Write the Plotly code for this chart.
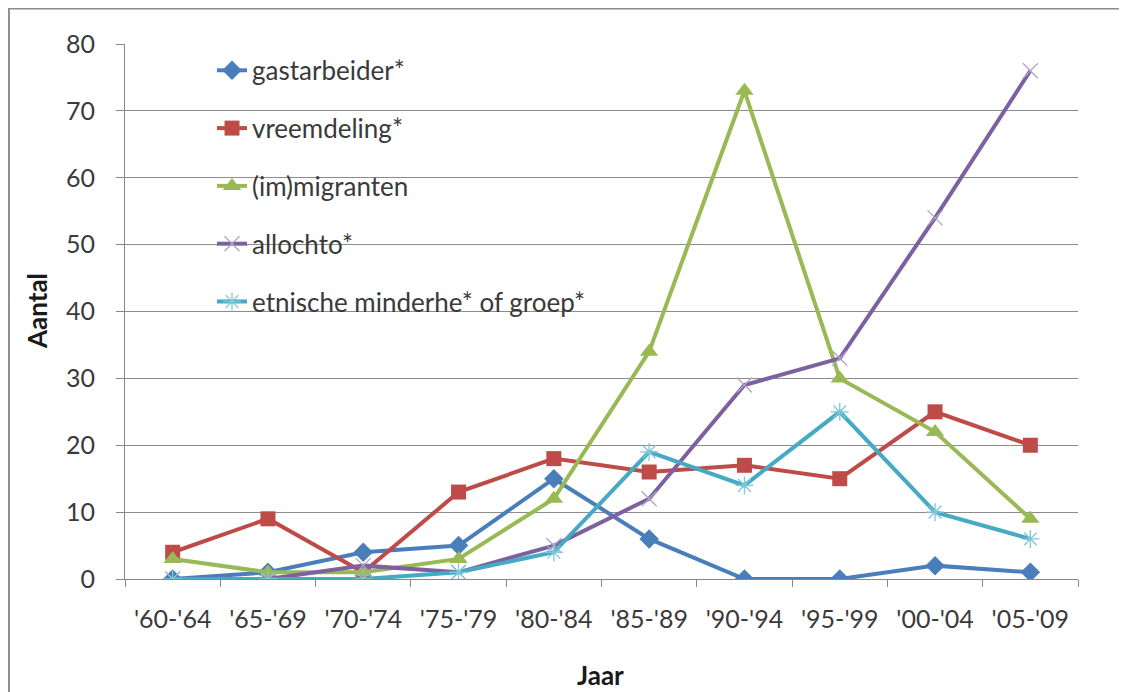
import plotly.graph_objects as go

categories = ["'60-'64", "'65-'69", "'70-'74", "'75-'79", "'80-'84",
              "'85-'89", "'90-'94", "'95-'99", "'00-'04", "'05-'09"]
gastarbeider = [0, 1, 4, 5, 15, 6, 0, 0, 2, 1]
vreemdeling = [4, 9, 1, 13, 18, 16, 17, 15, 25, 20]
immigranten = [3, 1, 1, 3, 12, 34, 73, 30, 22, 9]
allochto = [0, 0, 2, 1, 5, 12, 29, 33, 54, 76]
etnische = [0, 0, 0, 1, 4, 19, 14, 25, 10, 6]

series = [
    ("gastarbeider*", gastarbeider, "#4A7EBB", "diamond", 15, "#4A7EBB", 0),
    ("vreemdeling*", vreemdeling, "#BE4B48", "square", 15, "#BE4B48", 0),
    ("(im)migranten", immigranten, "#98B954", "triangle-up", 16, "#98B954", 0),
    ("allochto*", allochto, "#7D60A0", "x-thin-open", 15, "#B3A2C7", 1.3),
    ("etnische minderhe* of groep*", etnische, "#46AAC5", "asterisk-open", 15, "#7FC6DA", 1.3),
]

fig = go.Figure()
for i, (name, vals, col, sym, size, mcol, lw) in enumerate(series):
    marker = dict(symbol=sym, size=size, color=mcol)
    if lw:
        marker["line"] = dict(color=mcol, width=lw)
    else:
        marker["line"] = dict(width=0)
    fig.add_trace(go.Scatter(
        x=categories, y=vals, name=name, mode="lines+markers",
        line=dict(color=col, width=4), marker=marker,
        legendgroup=f"g{i}",
    ))

font_family = "Lato, 'Open Sans', sans-serif"
txt = "#3a3a3a"

fig.update_layout(
    width=1127, height=692,
    margin=dict(l=117, r=57, t=36, b=121),
    paper_bgcolor="white", plot_bgcolor="white",
    font=dict(family=font_family, size=25, color=txt),
    showlegend=True,
    legend=dict(x=0.0913, y=0.9946, xanchor="left", yanchor="top",
                bgcolor="rgba(0,0,0,0)", tracegroupgap=21,
                font=dict(size=26, color=txt)),
    xaxis=dict(
        type="category", range=[-0.5, len(categories) - 0.5],
        tickson="boundaries", ticks="outside", ticklen=7,
        tickcolor="#868686", showgrid=False, showline=True, linecolor="#868686",
        linewidth=1, automargin=False, ticklabelstandoff=18,
        tickfont=dict(size=25, color=txt),
    ),
    yaxis=dict(
        range=[0, 80], dtick=10, ticks="outside", ticklen=8, tickcolor="#868686",
        showgrid=True, gridcolor="#8c8c8c", gridwidth=1, showline=True,
        linecolor="#868686", zeroline=False, automargin=False,
        ticklabelstandoff=16,
        tickfont=dict(size=25, color=txt),
    ),
    annotations=[
        dict(text="<b>Aantal</b>", xref="paper", yref="paper",
             x=(29 - 117) / 953, y=(571 - 303) / 535, textangle=-90,
             showarrow=False, xanchor="center", yanchor="middle",
             font=dict(size=26, color="#1a1a1a")),
        dict(text="<b>Jaar</b>", xref="paper", yref="paper",
             x=(592 - 117) / 953, y=(571 - 667) / 535,
             showarrow=False, xanchor="center", yanchor="middle",
             font=dict(size=26, color="#1a1a1a")),
    ],
    shapes=[
        dict(type="line", xref="paper", yref="paper",
             x0=-0.1228, x1=1.1, y0=1.0664, y1=1.0664,
             line=dict(color="#8c8c8c", width=2), layer="below"),
        dict(type="line", xref="paper", yref="paper",
             x0=-0.1218, x1=-0.1218, y0=-0.4, y1=1.0664,
             line=dict(color="#8c8c8c", width=2), layer="below"),
    ],
)

fig.write_html("out.html")
